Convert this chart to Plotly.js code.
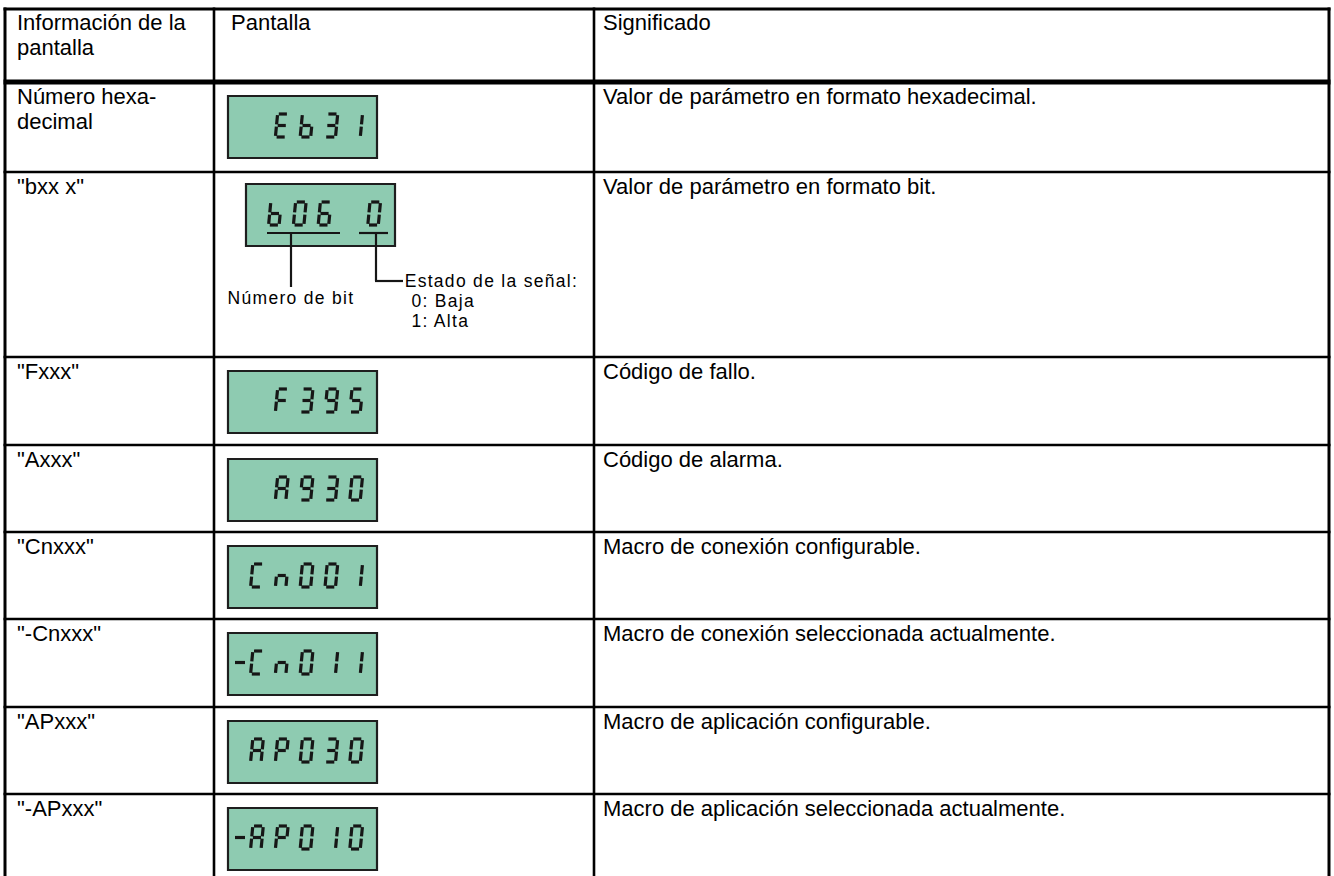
<!DOCTYPE html>
<html><head><meta charset="utf-8">
<script src="https://cdn.plot.ly/plotly-3.0.1.min.js"></script>
<style>
html,body{margin:0;padding:0;background:#fff;}
#chart{width:1334px;height:876px;}
</style></head><body><div id="chart"></div>
<script>
// ---- data ----
const headerLabels = [["Información de la", "pantalla"], ["Pantalla"], ["Significado"]];
const rowLabels = [["Número hexa-", "decimal"], ['"bxx x"'], ['"Fxxx"'], ['"Axxx"'], ['"Cnxxx"'], ['"-Cnxxx"'], ['"APxxx"'], ['"-APxxx"']];
const displayTexts = [" Eb31", "b06 0", " F395", " A930", "Cn001", "-Cn011", "AP030", "-AP010"];
const meanings = [
  "Valor de parámetro en formato hexadecimal.",
  "Valor de parámetro en formato bit.",
  "Código de fallo.",
  "Código de alarma.",
  "Macro de conexión configurable.",
  "Macro de conexión seleccionada actualmente.",
  "Macro de aplicación configurable.",
  "Macro de aplicación seleccionada actualmente."
];
const bitNumberLabel = "Número de bit";
const bitStateLabels = ["Estado de la señal:", "0: Baja", "1: Alta"];

// seven-segment map
const SEG = {'0':'abcdef','1':'bc','3':'abcdg','5':'acdfg','6':'acdefg','9':'abcdfg',
  'A':'abcefg','P':'abefg','E':'adefg','b':'cdefg','F':'aefg','C':'adef','n':'ceg','-':'g',' ':''};

// ---- layout geometry ----
const W = 1334, H = 876;
const colX = [5, 214, 594, 1329];
const rowY = [9, 82, 172, 357, 445, 532, 619, 707, 794, 876];
const FONT = 'Liberation Sans, Arial, Helvetica, sans-serif';
const SMALL_LS = 1.3;
const shapes = [], ann = [];

function line(x0, y0, x1, y1, w, c) {
  shapes.push({type:'line', xref:'x', yref:'y', x0, y0, x1, y1, line:{color:c || '#000', width:w}});
}
function txt(x, base, s, size, ls) {
  const shift = ls ? s.length * ls / 2 : 0;
  ann.push({xref:'x', yref:'y', x:x + shift, y:base - 0.3465 * size, text:s, showarrow:false,
    xanchor:'left', yanchor:'middle', borderpad:0, borderwidth:0,
    font:{family:FONT, size:size, color:'#000'}});
}

// table lines
for (let i = 0; i < rowY.length - 1; i++) {
  line(colX[0] - 1.5, rowY[i], colX[3] + 1.5, rowY[i], i === 1 ? 5 : (i === 0 ? 3 : 2.6));
}
colX.forEach((x, j) => line(x, rowY[0] - 1.5, x, H, (j === 0 || j === 3) ? 3 : 2.6));

// header
const textX = [18, 232, 604];
const BODY = 22, SMALL = 17.5, LEAD = 25;
headerLabels.forEach((lines, j) => lines.forEach((s, k) => txt(textX[j] - 1, rowY[0] + 21 + k * LEAD, s, BODY)));

// rows
rowLabels.forEach((lines, i) => lines.forEach((s, k) => txt(textX[0] - 1, rowY[i + 1] + 22 + k * LEAD, s, BODY)));
meanings.forEach((s, i) => txt(textX[2] - 1, rowY[i + 1] + 22, s, BODY));

// LCD displays
const SEGCOL = '#161616';
const SW = 3.2;
function drawGlyph(ch, gx, gy, w, h, k) {
  const segs = SEG[ch] || '';
  const g = 1.2, m = h / 2;
  const P = (u, v) => [gx + u + k * (h - v), gy + v];
  const def = {a:[[g,0],[w-g,0]], b:[[w,g],[w,m-g]], c:[[w,m+g],[w,h-g]], d:[[g,h],[w-g,h]],
    e:[[0,m+g],[0,h-g]], f:[[0,g],[0,m-g]], g:[[g,m],[w-g,m]]};
  for (const s of segs) {
    const A = P(...def[s][0]), B = P(...def[s][1]);
    line(A[0], A[1], B[0], B[1], SW, SEGCOL);
  }
}
displayTexts.forEach((t, i) => {
  const isBit = (i === 1);
  const top = rowY[i + 1] + (isBit ? 12 : 14);
  const left = isBit ? 246 : 228;
  const bw = 149, bh = 62;
  shapes.push({type:'rect', xref:'x', yref:'y', x0:left, x1:left + bw, y0:top, y1:top + bh,
    fillcolor:'#8ecbb1', line:{color:'#1e1e1e', width:2.2}});
  let s = t, neg = false;
  if (s[0] === '-') { neg = true; s = s.slice(1); }
  const gh = 23, gw = 10.5, k = 2.2 / 23;
  const gy = top + bh / 2 - 1.5 - gh / 2;
  for (let c = 0; c < s.length; c++) {
    const gx = left + 21 + c * 24.8 + 1.6;
    drawGlyph(s[c], gx, gy, gw, gh, k);
  }
  if (neg) line(left + 7, gy + gh / 2, left + 17, gy + gh / 2, SW, SEGCOL);

  if (isBit) {
    const uy = top + 49;
    line(left + 21, uy, left + 94, uy, 2.2, SEGCOL);
    line(left + 113, uy, left + 142, uy, 2.2, SEGCOL);
    line(left + 45, uy, left + 45, uy + 54, 2.2, SEGCOL);
    line(left + 130, uy, left + 130, uy + 48, 2.2, SEGCOL);
    line(left + 129, uy + 48, left + 157, uy + 48, 2.2, SEGCOL);
    txt(228, uy + 71, bitNumberLabel, SMALL, SMALL_LS);
    txt(405, uy + 54, bitStateLabels[0], SMALL, SMALL_LS);
    txt(411, uy + 74, bitStateLabels[1], SMALL, SMALL_LS);
    txt(411, uy + 94, bitStateLabels[2], SMALL, SMALL_LS);
  }
});

const data = [{x:[0], y:[0], mode:'markers', marker:{opacity:0}, hoverinfo:'skip', showlegend:false}];
const layout = {
  width:W, height:H, margin:{l:0, r:0, t:0, b:0},
  paper_bgcolor:'#fff', plot_bgcolor:'#fff', showlegend:false,
  xaxis:{range:[0, W], visible:false, fixedrange:true},
  yaxis:{range:[H, 0], visible:false, fixedrange:true},
  shapes:shapes, annotations:ann
};
Plotly.newPlot('chart', data, layout, {displayModeBar:false, staticPlot:true}).then(() => {
  document.querySelectorAll('.annotation-text').forEach(el => {
    if (parseFloat(el.style.fontSize) < 20) el.style.letterSpacing = SMALL_LS + 'px';
  });
});
</script></body></html>
